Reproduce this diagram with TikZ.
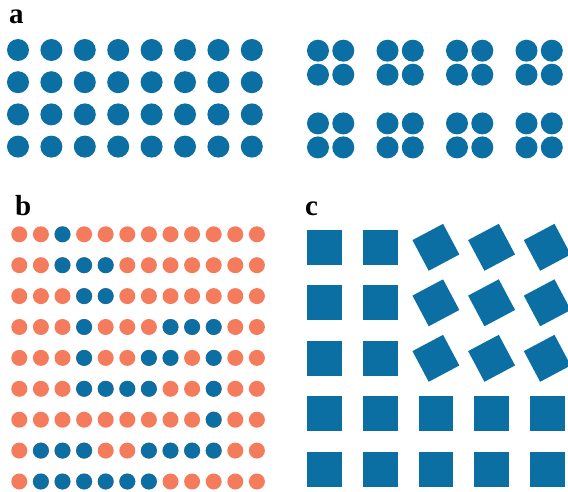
\documentclass[tikz,border=0pt]{standalone}
\usepackage{fontspec}
\setmainfont{Liberation Serif}
\usepackage{tikz}
\definecolor{Dot}  {HTML}{0B6FA4}
\definecolor{Coral}{HTML}{F47C5C}

\begin{document}
\begin{tikzpicture}[x=1pt, y=-1pt,
  panel/.style={anchor=base west, inner sep=0pt,
                font=\fontsize{29}{29}\selectfont\bfseries}]
  \useasboundingbox (0,0) rectangle (568,492);
  \clip (0,0) rectangle (568,492);
  % a: plain grid
  \foreach \i in {0,...,7}
    \foreach \j in {0,...,3}
      \fill[Dot] (18+33.4*\i, 50+32.2*\j) circle (11);
  % a: groups of four
  \foreach \i in {0,...,3}
    \foreach \j in {0,1}
      \foreach \dx/\dy in {0/0, 25.3/0, 0/24, 25.3/24}
        \fill[Dot] (318+69.5*\i+\dx, 50.7+72.7*\j+\dy) circle (11);
  % b: coral field, blue cells on top
  \foreach \i in {1,...,12}
    \foreach \j in {1,...,9}
      \fill[Coral] (19.3+21.6*\i-21.6, 234.3+30.9*\j-30.9) circle (8);
  \foreach \j/\cols in {1/{3}, 2/{3,4,5}, 3/{4,5}, 4/{4,8,9,10},
                        5/{4,7,8,10}, 6/{4,5,6,7,10}, 7/{10},
                        8/{2,3,4,7,8,9,10}, 9/{2,3,4,5,6,7}}
    \foreach \i in \cols
      \fill[Dot] (19.3+21.6*\i-21.6, 234.3+30.9*\j-30.9) circle (8);
  % c: squares, upper right block turned
  \foreach \i in {0,...,4}
    \foreach \j in {0,...,4}{
      \pgfmathtruncatemacro\ang{and(\i>1,\j<3)*28}
      \fill[Dot, rotate around={\ang:(324.5+55.7*\i, 247.3+55.5*\j)}]
        (324.5+55.7*\i, 247.3+55.5*\j) +(-17.35,-17.35) rectangle +(17.35,17.35);
    }
  % Panel labels
  \node[panel] (la) at (9,24)   {a};
  \node[panel] (lb) at (15,215) {b};
  \node[panel] (lc) at (305,215) {c};
\end{tikzpicture}
\end{document}
